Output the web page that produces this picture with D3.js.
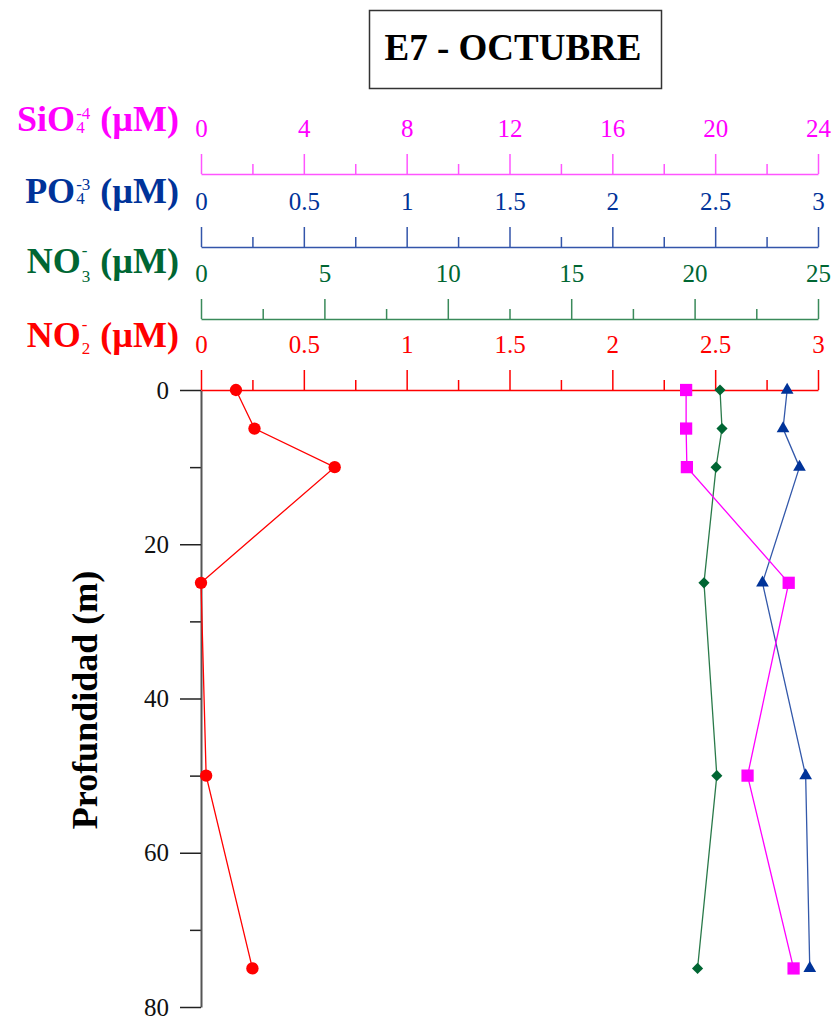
<!DOCTYPE html>
<html>
<head>
<meta charset="utf-8">
<script src="https://cdn.jsdelivr.net/npm/d3@7"></script>
<style>
  body { margin: 0; background: #fff; }
  svg { display: block; font-family: "Liberation Serif", "Times New Roman", serif; }
</style>
</head>
<body>
<div id="chart"></div>
<script>
// depth in m
const depths = [0, 5, 10, 25, 50, 75];
const no2Values = [0.17, 0.26, 0.65, 0, 0.025, 0.25];
const no3Values = [21.03, 21.11, 20.87, 20.38, 20.9, 20.12];
const po4Values = [2.85, 2.83, 2.91, 2.73, 2.94, 2.96];
const sio4Values = [18.87, 18.87, 18.9, 22.86, 21.26, 23.05];

const sioTicks = [0, 4, 8, 12, 16, 20, 24];
const poTicks = [0, 0.5, 1, 1.5, 2, 2.5, 3];
const no3Ticks = [0, 5, 10, 15, 20, 25];
const no2Ticks = [0, 0.5, 1, 1.5, 2, 2.5, 3];
const depthTicks = [0, 20, 40, 60, 80];

const width = 837, height = 1019;
const plotLeft = 201, plotRight = 818, plotTop = 390, plotBottom = 1007;

const svg = d3.select('#chart').append('svg')
  .attr('width', width)
  .attr('height', height);

const y = d3.scaleLinear().domain([0, 80]).range([plotTop, plotBottom]);

// title box
svg.append('rect')
  .attr('x', 369.5).attr('y', 10.5)
  .attr('width', 292).attr('height', 78)
  .attr('fill', 'none').attr('stroke', '#333').attr('stroke-width', 1.5);
svg.append('text')
  .attr('x', 513).attr('y', 60)
  .attr('text-anchor', 'middle')
  .style('font-size', '37px').style('font-weight', 'bold')
  .text('E7 - OCTUBRE');

// depth axis
const yAxisG = svg.append('g').attr('transform', `translate(${plotLeft},0)`);
yAxisG.call(d3.axisLeft(y).tickValues([10, 30, 50, 70]).tickSize(11).tickSizeOuter(0).tickFormat(''));
yAxisG.selectAll('.tick line').attr('stroke', '#222').attr('stroke-width', 1.5);
yAxisG.select('.domain').remove();
const yAxisMajor = svg.append('g').attr('transform', `translate(${plotLeft},0)`)
  .call(d3.axisLeft(y).tickValues(depthTicks).tickSize(21).tickSizeOuter(0).tickPadding(11));
yAxisMajor.select('.domain').attr('stroke', '#555').attr('stroke-width', 2);
yAxisMajor.selectAll('.tick line').attr('stroke', '#222').attr('stroke-width', 1.5);
yAxisMajor.selectAll('.tick text')
  .style('font-size', '25px').style('font-family', '"Liberation Serif", serif').attr('fill', '#111');

svg.append('text')
  .attr('transform', 'translate(97,700) rotate(-90)')
  .attr('text-anchor', 'middle')
  .style('font-size', '36px').style('font-weight', 'bold')
  .text('Profundidad (m)');

// four nutrient axes stacked on top
const axes = [
  { key: 'sio', name: 'SiO', sup: '-4', sub: '4', color: '#ff00ff', lineColor: '#ff55ff', max: 24, ticks: sioTicks, minor: 2, ypos: 174, labelY: 131, supDy: -12, subDy: 2, values: sio4Values },
  { key: 'po', name: 'PO', sup: '-3', sub: '4', color: '#003399', lineColor: '#3355aa', max: 3, ticks: poTicks, minor: 0.25, ypos: 247, labelY: 203, supDy: -13, subDy: 1, values: po4Values },
  { key: 'no3', name: 'NO', sup: '-', sub: '3', color: '#006633', lineColor: '#3a8a5a', max: 25, ticks: no3Ticks, minor: 2.5, ypos: 319, labelY: 273, supDy: -17, subDy: 9, values: no3Values },
  { key: 'no2', name: 'NO', sup: '-', sub: '2', color: '#ff0000', lineColor: '#ff0000', max: 3, ticks: no2Ticks, minor: 0.25, ypos: 390, labelY: 347, supDy: -17, subDy: 7, values: no2Values }
];

axes.forEach(a => {
  a.scale = d3.scaleLinear().domain([0, a.max]).range([plotLeft, plotRight]);
  const minorVals = d3.range(0, a.max + a.minor / 2, a.minor).filter(v => !a.ticks.includes(+v.toFixed(4)));

  const gMinor = svg.append('g').attr('transform', `translate(0,${a.ypos})`)
    .call(d3.axisTop(a.scale).tickValues(minorVals).tickSize(10).tickSizeOuter(0).tickFormat(''));
  gMinor.select('.domain').remove();
  gMinor.selectAll('.tick line').attr('stroke', a.lineColor).attr('stroke-width', 1.5);

  const g = svg.append('g').attr('transform', `translate(0,${a.ypos})`)
    .call(d3.axisTop(a.scale).tickValues(a.ticks).tickSize(20).tickSizeOuter(0).tickPadding(17).tickFormat(d => String(d)));
  g.select('.domain').attr('stroke', a.lineColor).attr('stroke-width', 1.5);
  g.selectAll('.tick line').attr('stroke', a.lineColor).attr('stroke-width', 1.5);
  g.selectAll('.tick text')
    .attr('fill', a.color)
    .style('font-size', '25px')
    .style('font-family', '"Liberation Serif", serif');

  // label with stacked super/subscript, right aligned at x=178
  const lab = svg.append('g').attr('fill', a.color)
    .style('font-weight', 'bold');
  const t1 = lab.append('text').attr('x', 0).attr('y', a.labelY).style('font-size', '36px').text(a.name);
  const w1 = t1.node().getComputedTextLength();
  const sp = lab.append('text').attr('x', w1 + 1).attr('y', a.labelY + a.supDy).style('font-size', '17px').style('font-weight', 'normal').text(a.sup);
  const sb = lab.append('text').attr('x', w1 + 1).attr('y', a.labelY + a.subDy).style('font-size', '17px').style('font-weight', 'normal').text(a.sub);
  const w2 = Math.max(sp.node().getComputedTextLength(), sb.node().getComputedTextLength());
  const t3 = lab.append('text').attr('x', w1 + w2 + 2).attr('y', a.labelY).style('font-size', '36px').text('\u00a0(\u00b5M)');
  const total = w1 + w2 + 2 + t3.node().getComputedTextLength();
  lab.attr('transform', `translate(${179 - total},0)`);
});

// profiles, drawn after axes
const markers = {
  sio: d3.symbol().type(d3.symbolSquare).size(150),
  po: d3.symbol().type(d3.symbolTriangle).size(70),
  no3: d3.symbol().type(d3.symbolSquare).size(62),
  no2: d3.symbol().type(d3.symbolCircle).size(120)
};

['no3', 'po', 'sio', 'no2'].forEach(k => {
  const a = axes.find(d => d.key === k);
  const pts = depths.map((d, i) => ({ depth: d, value: a.values[i] }));
  const line = d3.line().x(d => a.scale(d.value)).y(d => y(d.depth));

  svg.append('path')
    .datum(pts)
    .attr('fill', 'none')
    .attr('stroke', a.key === 'po' ? '#3358aa' : a.key === 'no3' ? '#2a7a4a' : a.color)
    .attr('stroke-width', 1.3)
    .attr('d', line);

  svg.selectAll(`.pt-${k}`)
    .data(pts)
    .join('path')
    .attr('class', `pt-${k}`)
    .attr('transform', d => `translate(${a.scale(d.value)},${y(d.depth)})` + (k === 'no3' ? ' rotate(45)' : ''))
    .attr('d', markers[k])
    .attr('fill', a.color);
});
</script>
</body>
</html>
